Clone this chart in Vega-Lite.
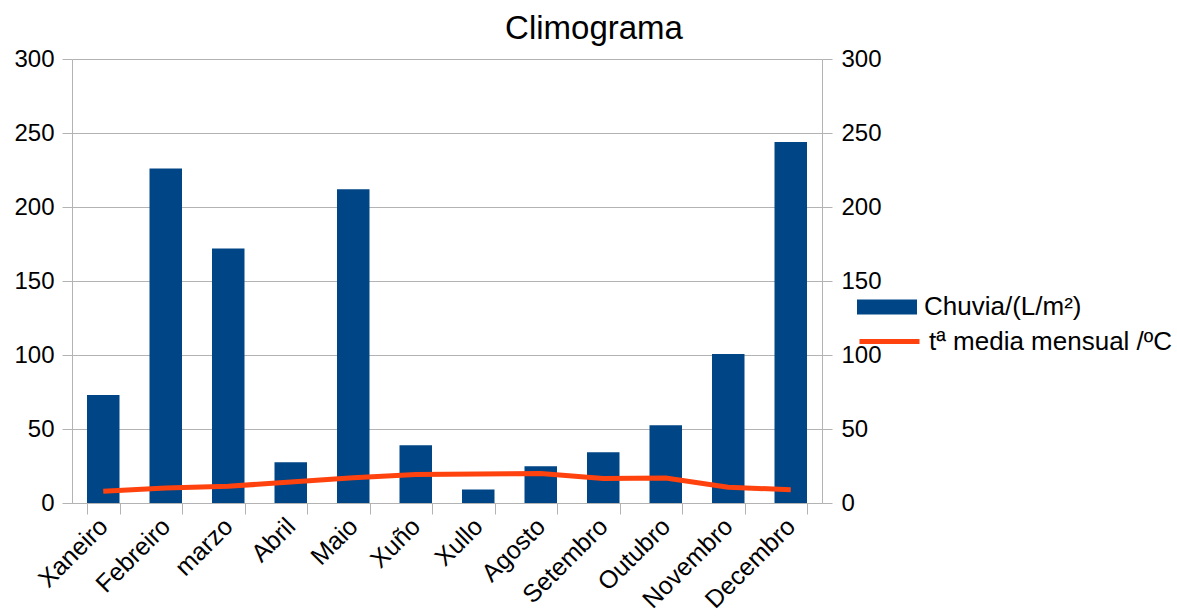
{
  "$schema": "https://vega.github.io/schema/vega-lite/v6.json",
  "width": 750,
  "height": 444,
  "autosize": {"type": "none"},
  "padding": {"left": 72, "top": 59, "right": 355, "bottom": 113},
  "background": "white",
  "config": {
    "font": "Liberation Sans",
    "view": {"stroke": null},
    "axis": {"labelFont": "Liberation Sans", "labelColor": "black", "domainColor": "#b3b3b3", "tickColor": "#b3b3b3", "gridColor": "#b3b3b3", "titleFont": "Liberation Sans"},
    "legend": {"labelFont": "Liberation Sans", "labelColor": "black", "padding": 0}
  },
  "title": {
    "text": "Climograma",
    "fontSize": 33,
    "font": "Liberation Sans",
    "fontWeight": "normal",
    "color": "black",
    "anchor": "middle",
    "dx": 147,
    "baseline": "alphabetic",
    "offset": -25
  },
  "data": {
    "values": [
      {"mes": "Xaneiro", "chuvia": 73, "temp": 8},
      {"mes": "Febreiro", "chuvia": 226, "temp": 10.2},
      {"mes": "marzo", "chuvia": 172, "temp": 11.3},
      {"mes": "Abril", "chuvia": 27.5, "temp": 14.2},
      {"mes": "Maio", "chuvia": 212, "temp": 17},
      {"mes": "Xuño", "chuvia": 39, "temp": 19.2},
      {"mes": "Xullo", "chuvia": 9.2, "temp": 19.6},
      {"mes": "Agosto", "chuvia": 24.8, "temp": 19.9},
      {"mes": "Setembro", "chuvia": 34.3, "temp": 16.5},
      {"mes": "Outubro", "chuvia": 52.6, "temp": 16.9},
      {"mes": "Novembro", "chuvia": 100.6, "temp": 10.6},
      {"mes": "Decembro", "chuvia": 244, "temp": 9}
    ]
  },
  "encoding": {
    "x": {
      "field": "mes",
      "type": "nominal",
      "sort": null,
      "title": null,
      "scale": {"paddingInner": 0.48, "paddingOuter": 0.24},
      "axis": {
        "labelAngle": -45,
        "labelFontSize": 25,
        "labelAlign": "right",
        "labelBaseline": "middle",
        "labelPadding": 8,
        "tickBand": "extent",
        "tickSize": 11,
        "grid": false,
        "labelOverlap": false,
        "labelLimit": 300
      }
    }
  },
  "layer": [
    {
      "mark": {"type": "bar"},
      "encoding": {
        "y": {
          "field": "chuvia",
          "type": "quantitative",
          "title": null,
          "scale": {"domain": [0, 300], "nice": false},
          "axis": {"orient": "left", "values": [0, 50, 100, 150, 200, 250, 300], "labelFontSize": 24, "tickSize": 10, "labelPadding": 8, "grid": true}
        },
        "fill": {
          "datum": "Chuvia/(L/m²)",
          "scale": {"range": ["#004586"]},
          "legend": {
            "title": null,
            "orient": "none",
            "legendX": 785,
            "legendY": 218,
            "symbolType": "M-1,-0.25H1V0.25H-1Z",
            "symbolSize": 3600,
            "symbolStrokeWidth": 0,
            "labelFontSize": 26,
            "labelOffset": 7,
            "labelLimit": 400
          }
        }
      }
    },
    {
      "mark": {"type": "line", "strokeWidth": 5, "color": "#ff420e"},
      "encoding": {
        "y": {
          "field": "temp",
          "type": "quantitative",
          "title": null,
          "scale": {"domain": [0, 300], "nice": false},
          "axis": {"orient": "right", "values": [0, 50, 100, 150, 200, 250, 300], "labelFontSize": 24, "tickSize": 10, "labelPadding": 9, "grid": false}
        },
        "stroke": {
          "datum": "tª media mensual /ºC",
          "scale": {"range": ["#ff420e"]},
          "legend": {
            "title": null,
            "orient": "none",
            "legendX": 785,
            "legendY": 250,
            "symbolType": "stroke",
            "symbolSize": 3600,
            "symbolStrokeWidth": 5,
            "labelFontSize": 26,
            "labelOffset": 7,
            "labelLimit": 400
          }
        }
      }
    }
  ],
  "resolve": {"scale": {"y": "independent", "fill": "independent", "stroke": "independent"}}
}
